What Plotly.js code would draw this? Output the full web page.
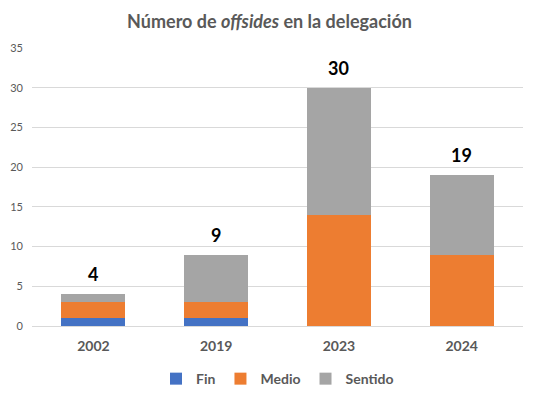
<!DOCTYPE html>
<html>
<head>
<meta charset="utf-8">
<script src="https://cdn.plot.ly/plotly-3.0.1.min.js"></script>
<style>html,body{margin:0;padding:0;background:#fff;}</style>
</head>
<body>
<div id="chart" style="width:539px;height:399px;"></div>
<script>
const categories = ["2002", "2019", "2023", "2024"];
const fin = [1, 1, 0, 0];
const medio = [2, 2, 14, 9];
const sentido = [1, 6, 16, 10];
const seriesNames = ["Fin", "Medio", "Sentido"];
const totals = categories.map((c, i) => fin[i] + medio[i] + sentido[i]);

const FONT = "Lato, 'Noto Sans', sans-serif";
const colors = ["#4472C4", "#ED7D31", "#A5A5A5"];
const seriesData = [fin, medio, sentido];

const traces = seriesData.map((vals, k) => ({
  type: "bar",
  name: seriesNames[k],
  x: categories,
  y: vals,
  marker: {color: colors[k]}
}));

const annotations = categories.map((c, i) => ({
  x: i, y: totals[i], xref: "x", yref: "y",
  text: String(totals[i]),
  showarrow: false, yanchor: "bottom", yshift: 7,
  font: {family: FONT, size: 18, color: "#000000", weight: 700}
}));

const layout = {
  width: 539, height: 399,
  margin: {l: 32, r: 16, t: 48, b: 73, autoexpand: false},
  paper_bgcolor: "#ffffff", plot_bgcolor: "#ffffff",
  barmode: "stack",
  bargap: 0.48,
  title: {
    text: "Número de <i>offsides</i> en la delegación",
    x: 0.5, xanchor: "center", y: 0.945, yanchor: "middle",
    font: {family: FONT, size: 18, color: "#595959", weight: 700}
  },
  xaxis: {
    type: "category",
    range: [-0.5, 3.5],
    showgrid: false, showline: false, ticks: "",
    ticklabelstandoff: 10,
    tickfont: {family: FONT, size: 14, color: "#595959", weight: 700}
  },
  yaxis: {
    range: [0, 35], dtick: 5, tick0: 0,
    showgrid: true, gridcolor: "#D9D9D9", gridwidth: 1,
    zeroline: true, zerolinecolor: "#D9D9D9", zerolinewidth: 1,
    showline: false, ticks: "",
    ticklabelstandoff: 8,
    tickfont: {family: FONT, size: 11, color: "#595959"}
  },
  legend: {
    orientation: "h", x: 0.5, xanchor: "center",
    yref: "container", y: 0.05, yanchor: "middle",
    font: {family: FONT, size: 14, color: "#595959", weight: 700},
    traceorder: "normal"
  },
  annotations: annotations,
  showlegend: true
};

Plotly.newPlot("chart", traces, layout, {displayModeBar: false});
</script>
</body>
</html>
